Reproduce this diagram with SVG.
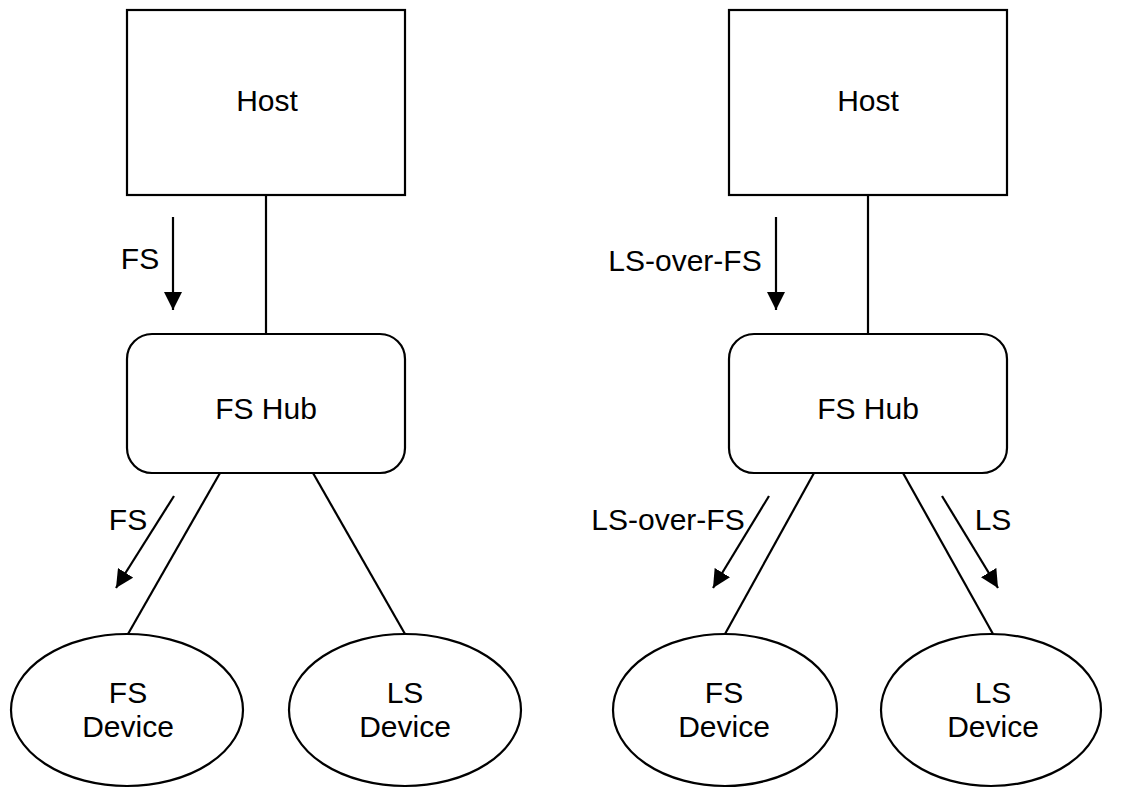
<svg xmlns="http://www.w3.org/2000/svg" width="1121" height="789" viewBox="0 0 1121 789">
<style>
.shape{fill:#fff;stroke:#000;stroke-width:2.2}
.ln{fill:none;stroke:#000;stroke-width:2.2}
.t{font-family:"Liberation Sans",Arial,sans-serif;font-size:30px;fill:#000;text-anchor:middle}
</style>
<defs>
<marker id="ah" markerUnits="userSpaceOnUse" markerWidth="18" markerHeight="18" refX="16" refY="8" orient="auto" viewBox="0 0 16 16">
<path d="M0,0 L16,8 L0,16 z" fill="#000"/>
</marker>
</defs>
<rect width="1121" height="789" fill="#fff"/>
<g id="connectors">
<line class="ln" x1="266" y1="195" x2="266" y2="334"/>
<line class="ln" x1="220" y1="473" x2="128" y2="634"/>
<line class="ln" x1="313" y1="473" x2="405" y2="634"/>
<line class="ln" x1="868" y1="195" x2="868" y2="334"/>
<line class="ln" x1="814" y1="473" x2="725" y2="634"/>
<line class="ln" x1="903" y1="473" x2="993" y2="634"/>
<line class="ln" x1="173" y1="217" x2="173" y2="310" marker-end="url(#ah)"/>
<line class="ln" x1="174" y1="496" x2="116" y2="588" marker-end="url(#ah)"/>
<line class="ln" x1="776" y1="217" x2="776" y2="310" marker-end="url(#ah)"/>
<line class="ln" x1="769" y1="496" x2="713" y2="588" marker-end="url(#ah)"/>
<line class="ln" x1="942" y1="496" x2="998" y2="588" marker-end="url(#ah)"/>
<text class="t" x="140" y="269">FS</text>
<text class="t" x="128" y="530">FS</text>
<text class="t" x="685" y="271">LS-over-FS</text>
<text class="t" x="668" y="530">LS-over-FS</text>
<text class="t" x="993" y="530">LS</text>
</g>
<g id="host-left">
<rect class="shape" x="127" y="10" width="278" height="185"/>
<text class="t" x="267" y="111">Host</text>
</g>
<g id="hub-left">
<rect class="shape" x="127" y="334" width="278" height="139" rx="25" ry="25"/>
<text class="t" x="266" y="419">FS Hub</text>
</g>
<g id="fsdev-left">
<ellipse class="shape" cx="127" cy="710" rx="116" ry="76"/>
<text class="t" x="128" y="703">FS</text>
<text class="t" x="128" y="737">Device</text>
</g>
<g id="lsdev-left">
<ellipse class="shape" cx="405" cy="710" rx="116" ry="76"/>
<text class="t" x="405" y="703">LS</text>
<text class="t" x="405" y="737">Device</text>
</g>
<g id="host-right">
<rect class="shape" x="729" y="10" width="278" height="185"/>
<text class="t" x="868" y="111">Host</text>
</g>
<g id="hub-right">
<rect class="shape" x="729" y="334" width="278" height="139" rx="25" ry="25"/>
<text class="t" x="868" y="419">FS Hub</text>
</g>
<g id="fsdev-right">
<ellipse class="shape" cx="725" cy="710" rx="112" ry="76"/>
<text class="t" x="724" y="703">FS</text>
<text class="t" x="724" y="737">Device</text>
</g>
<g id="lsdev-right">
<ellipse class="shape" cx="991" cy="710" rx="110" ry="76"/>
<text class="t" x="993" y="703">LS</text>
<text class="t" x="993" y="737">Device</text>
</g>
</svg>
